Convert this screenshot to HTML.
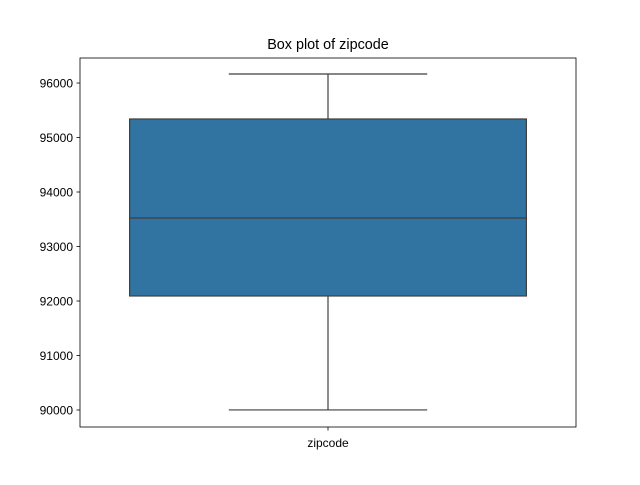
<!DOCTYPE html>
<html><head><meta charset="utf-8"><style>
body{margin:0;background:#fff}
svg text{font-family:"Liberation Sans","DejaVu Sans",sans-serif;fill:#000}
</style></head><body>
<svg id="chart" width="640" height="480">
<rect width="640" height="480" fill="#fff"/>
<text x="328" y="49" text-anchor="middle" font-size="14.4">Box plot of zipcode</text>
<g id="plot"></g>
<rect x="80" y="58" width="496" height="369" fill="none" stroke="#000" stroke-width="0.8"/>
</svg>
<script>
const categories = ["zipcode"];
const whiskerLow = [90001];
const q1 = [92092];
const median = [93523];
const q3 = [95340];
const whiskerHigh = [96165];
const yTicks = [90000, 91000, 92000, 93000, 94000, 95000, 96000];

const yMin = 89688, yMax = 96459, pTop = 58, pBottom = 427, pLeft = 80, pRight = 576;
const y = v => pBottom - (v - yMin) / (yMax - yMin) * (pBottom - pTop);
const band = (pRight - pLeft) / categories.length;
const xc = i => pLeft + band * (i + 0.5);
const NS = "http://www.w3.org/2000/svg";
const g = document.getElementById("plot");
function mk(tag, attrs){const e=document.createElementNS(NS,tag);for(const k in attrs)e.setAttribute(k,attrs[k]);g.appendChild(e);return e;}

yTicks.forEach(t => {
  const ty = y(t);
  const tk = mk("line",{x1:pLeft-3.5,x2:pLeft,y1:ty,y2:ty,stroke:"#000","stroke-width":0.8});
  
  
  const lb = mk("text",{x:pLeft-7,y:ty+4.5,"text-anchor":"end","font-size":"12"});
  lb.textContent = t;
  
  
});

categories.forEach((c, i) => {
  const cx = xc(i), bw = band * 0.8, cw = bw * 0.5;
  const w1 = mk("line",{x1:cx,x2:cx,y1:y(q3[i]),y2:y(whiskerHigh[i]),stroke:"#3f3f3f","stroke-width":1.2});
  
  
  const w2 = mk("line",{x1:cx,x2:cx,y1:y(q1[i]),y2:y(whiskerLow[i]),stroke:"#3f3f3f","stroke-width":1.2});
  
  
  const c1 = mk("line",{x1:cx-cw/2,x2:cx+cw/2,y1:y(whiskerHigh[i]),y2:y(whiskerHigh[i]),stroke:"#3f3f3f","stroke-width":1.2});
  
  
  const c2 = mk("line",{x1:cx-cw/2,x2:cx+cw/2,y1:y(whiskerLow[i]),y2:y(whiskerLow[i]),stroke:"#3f3f3f","stroke-width":1.2});
  
  
  const bx = mk("rect",{x:cx-bw/2,y:y(q3[i]),width:bw,height:y(q1[i])-y(q3[i]),fill:"#3274a1",stroke:"#3f3f3f","stroke-width":1.2});
  
  
  const md = mk("line",{x1:cx-bw/2,x2:cx+bw/2,y1:y(median[i]),y2:y(median[i]),stroke:"#3f3f3f","stroke-width":1.2});
  
  
  const xt = mk("line",{x1:cx,x2:cx,y1:pBottom,y2:pBottom+3.5,stroke:"#000","stroke-width":0.8});
  
  
  const xl = mk("text",{x:cx,y:pBottom+20,"text-anchor":"middle","font-size":"12"});
  xl.textContent = c;
  
  
});
</script>
</body></html>
